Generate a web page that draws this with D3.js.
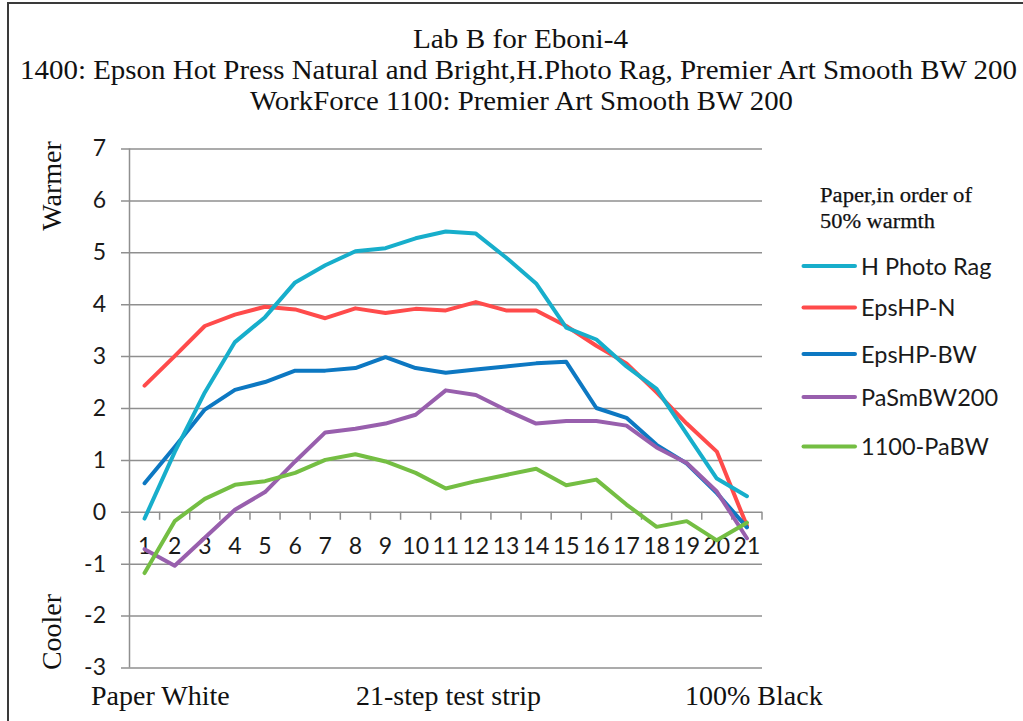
<!DOCTYPE html>
<html>
<head>
<meta charset="utf-8">
<script src="https://cdn.jsdelivr.net/npm/d3@7"></script>
<style>
  html, body { margin: 0; padding: 0; background: #fff; }
  svg { display: block; }
</style>
</head>
<body>
<svg id="chart" width="1023" height="721"></svg>
<script>
// ---- data ----
const steps = ["1","2","3","4","5","6","7","8","9","10","11","12","13","14","15","16","17","18","19","20","21"];
const yTicks = [-3,-2,-1,0,1,2,3,4,5,6,7];
const seriesNames = ["H Photo Rag","EpsHP-N","EpsHP-BW","PaSmBW200","1100-PaBW"];
const hPhotoRag = [-0.13, 1.15, 2.3, 3.27, 3.75, 4.42, 4.75, 5.02, 5.08, 5.27, 5.4, 5.36, 4.9, 4.4, 3.55, 3.32, 2.8, 2.37, 1.5, 0.64, 0.3];
const epsHPN    = [2.43, 3.0, 3.58, 3.8, 3.95, 3.9, 3.73, 3.92, 3.83, 3.91, 3.88, 4.04, 3.88, 3.88, 3.58, 3.2, 2.86, 2.3, 1.7, 1.16, -0.27];
const epsHPBW   = [0.55, 1.25, 1.97, 2.35, 2.5, 2.72, 2.72, 2.77, 2.98, 2.77, 2.68, 2.74, 2.8, 2.86, 2.89, 2.0, 1.81, 1.29, 0.93, 0.36, -0.3];
const paSmBW200 = [-0.72, -1.04, -0.5, 0.04, 0.38, 0.97, 1.53, 1.6, 1.7, 1.87, 2.34, 2.25, 1.96, 1.7, 1.75, 1.75, 1.66, 1.24, 0.94, 0.39, -0.51];
const pa1100BW  = [-1.18, -0.18, 0.25, 0.52, 0.59, 0.75, 1.0, 1.11, 0.97, 0.75, 0.45, 0.59, 0.71, 0.83, 0.51, 0.62, 0.14, -0.29, -0.18, -0.55, -0.21];
const titleLines = ["Lab B for Eboni-4",
  "1400: Epson Hot Press Natural and Bright,H.Photo Rag, Premier Art Smooth BW 200",
  "WorkForce 1100: Premier Art Smooth BW 200"];
const legendTitle = ["Paper,in order of", "50% warmth"];
const bottomLabels = ["Paper White", "21-step test strip", "100% Black"];

// ---- styles / layout ----
const colors = ["#17AECB", "#FF4B4B", "#0D78C2", "#985FAD", "#74BE43"];
const values = [hPhotoRag, epsHPN, epsHPBW, paSmBW200, pa1100BW];
const drawOrder = [1, 2, 0, 3, 4];
const serif = "'Liberation Serif','Times New Roman',serif";
const sans = "Lato, 'Open Sans', sans-serif";

const svg = d3.select("#chart");

// outer border (cut off at right/bottom like the reference)
svg.append("rect").attr("x", 8).attr("y", 3).attr("width", 1040).attr("height", 740)
  .attr("fill", "none").attr("stroke", "#3a3a3a").attr("stroke-width", 2);

const pLeft = 129.5, pRight = 762, pTop = 148.5, pBottom = 667.5;
const x = d3.scaleBand().domain(steps).range([pLeft, pRight]).padding(0);
const y = d3.scaleLinear().domain([-3, 7]).range([pBottom, pTop]);
const cx = d => x(d) + x.bandwidth() / 2;

// gridlines + y labels
const gy = svg.append("g").attr("transform", "translate(121,0)")
  .call(d3.axisLeft(y).tickValues(yTicks).tickFormat(d => String(d))
    .tickSizeInner(-(pRight - 121)).tickSizeOuter(0).tickPadding(15));
gy.select(".domain").remove();
gy.selectAll(".tick line").attr("stroke", "#8f8f8f").attr("stroke-width", 1.5);
gy.selectAll(".tick text").attr("fill", "#1a1a1a").style("font-family", sans).style("font-size", "23px");

// y axis line
svg.append("line").attr("x1", pLeft).attr("x2", pLeft).attr("y1", pTop).attr("y2", pBottom)
  .attr("stroke", "#8f8f8f").attr("stroke-width", 1.5);

// x tick marks at category boundaries along zero line
const y0 = y(0);
svg.append("g").selectAll("line").data(d3.range(1, steps.length + 1)).join("line")
  .attr("x1", i => pLeft + i * x.bandwidth()).attr("x2", i => pLeft + i * x.bandwidth())
  .attr("y1", y0).attr("y2", y0 + 8).attr("stroke", "#8f8f8f").attr("stroke-width", 1.5);

// x labels
const gx = svg.append("g").attr("transform", `translate(0,${y0})`)
  .call(d3.axisBottom(x).tickSize(0).tickPadding(26));
gx.select(".domain").remove();
gx.selectAll(".tick text").attr("fill", "#1a1a1a").style("font-family", sans).style("font-size", "23px");

// lines
const line = d3.line().x((v, i) => cx(steps[i])).y(v => y(v));
svg.append("g").selectAll("path").data(drawOrder).join("path")
  .attr("d", k => line(values[k]))
  .attr("fill", "none").attr("stroke", k => colors[k]).attr("stroke-width", 4)
  .attr("stroke-linejoin", "round").attr("stroke-linecap", "round");

// title
const titleY = [47.5, 78.5, 109.5];
const titleX = [520.5, 518.5, 521.5];
const titleW = [215, 997, 543];
svg.append("g").selectAll("text").data(titleLines).join("text")
  .attr("x", (d, i) => titleX[i]).attr("y", (d, i) => titleY[i])
  .attr("text-anchor", "middle").attr("textLength", (d, i) => titleW[i])
  .attr("lengthAdjust", "spacingAndGlyphs")
  .style("font-family", serif).style("font-size", "27px").attr("fill", "#111")
  .text(d => d);

// axis titles
svg.append("text").attr("transform", "translate(61,186) rotate(-90)").attr("text-anchor", "middle")
  .style("font-family", serif).style("font-size", "28px").attr("fill", "#111").text("Warmer");
svg.append("text").attr("transform", "translate(61,632) rotate(-90)").attr("text-anchor", "middle")
  .style("font-family", serif).style("font-size", "28px").attr("fill", "#111").text("Cooler");

// bottom labels
const bottomX = [91, 356, 685];
svg.append("g").selectAll("text").data(bottomLabels).join("text")
  .attr("x", (d, i) => bottomX[i]).attr("y", 705)
  .style("font-family", serif).style("font-size", "28px").attr("fill", "#111").text(d => d);

// legend
const legTitleW = [152, 115];
svg.append("g").selectAll("text").data(legendTitle).join("text")
  .attr("x", 820).attr("y", (d, i) => [201.5, 228][i])
  .attr("textLength", (d, i) => legTitleW[i]).attr("lengthAdjust", "spacingAndGlyphs")
  .style("font-family", serif).style("font-size", "20.5px").attr("fill", "#111")
  .attr("stroke", "#111").attr("stroke-width", 0.25)
  .text(d => d);

const legendY = [266, 307.5, 354, 397, 446.5];
const lg = svg.append("g").selectAll("g").data(seriesNames).join("g")
  .attr("transform", (d, i) => `translate(0,${legendY[i]})`);
lg.append("line").attr("x1", 803.5).attr("x2", 855).attr("y1", 0).attr("y2", 0)
  .attr("stroke", (d, i) => colors[i]).attr("stroke-width", 4).attr("stroke-linecap", "round");
lg.append("text").attr("x", 861).attr("y", 8.5)
  .style("font-family", sans).style("font-size", "23.5px").attr("fill", "#1a1a1a").text(d => d);
</script>
</body>
</html>
